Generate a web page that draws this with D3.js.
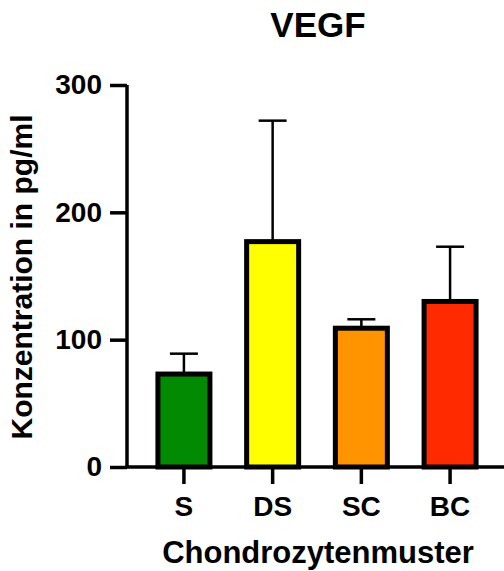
<!DOCTYPE html>
<html><head><meta charset="utf-8">
<script src="https://cdn.jsdelivr.net/npm/d3@7"></script>
<style>body{margin:0;background:#fff}svg{display:block;font-family:"Liberation Sans",Arial,sans-serif;font-weight:bold}</style>
</head><body><svg id="c" width="504" height="571"></svg>
<script>
const categories = ["S","DS","SC","BC"];
const means = [73, 177, 109, 130];
const errors = [16, 95, 7, 43];
const colors = ["#038a03","#ffff00","#ff9400","#ff2a00"];
const yTicks = [0,100,200,300];

const svg = d3.select("#c");
const x = d3.scaleBand().domain(categories).range([140, 494]).paddingInner(0.35).paddingOuter(0.17);
const y = d3.scaleLinear().domain([0,300]).range([467,85]);

const bw = 52;
const g = svg.append("g");
categories.forEach((c,i)=>{
  const cx = x(c)+x.bandwidth()/2;
  g.append("line").attr("x1",cx).attr("x2",cx).attr("y1",y(means[i])).attr("y2",y(means[i]+errors[i])).attr("stroke","#000").attr("stroke-width",2.5);
  g.append("line").attr("x1",cx-14).attr("x2",cx+14).attr("y1",y(means[i]+errors[i])).attr("y2",y(means[i]+errors[i])).attr("stroke","#000").attr("stroke-width",2.5);
});
categories.forEach((c,i)=>{
  const cx = x(c)+x.bandwidth()/2;
  g.append("rect").attr("x",cx-bw/2).attr("width",bw).attr("y",y(means[i])).attr("height",y(0)-y(means[i]))
    .attr("fill",colors[i]).attr("stroke","#000").attr("stroke-width",5);
});

const ya = svg.append("g").attr("transform","translate(127,0)")
  .call(d3.axisLeft(y).tickValues(yTicks).tickSize(17).tickPadding(8));
ya.select(".domain").attr("stroke-width",3.5).attr("d","M0,85V467");
ya.selectAll(".tick line").attr("stroke-width",3.5);
ya.selectAll("text").attr("font-size",28).attr("font-weight","bold").attr("fill","#000").attr("font-family","Liberation Sans, Arial, sans-serif");

const xa = svg.append("g").attr("transform","translate(0,467)")
  .call(d3.axisBottom(x).tickSize(17).tickPadding(12));
xa.select(".domain").attr("stroke-width",3.5).attr("d","M125.5,0H504");
xa.selectAll(".tick line").attr("stroke-width",3.5);
xa.selectAll("text").attr("font-size",28).attr("font-weight","bold").attr("fill","#000").attr("font-family","Liberation Sans, Arial, sans-serif");

svg.append("text").attr("x",318).attr("y",37).attr("text-anchor","middle").attr("font-size",35).text("VEGF");
svg.append("text").attr("x",318).attr("y",563).attr("text-anchor","middle").attr("font-size",31).text("Chondrozytenmuster");
svg.append("text").attr("transform","translate(32,277) rotate(-90)").attr("text-anchor","middle").attr("font-size",30).text("Konzentration in pg/ml");
</script></body></html>
